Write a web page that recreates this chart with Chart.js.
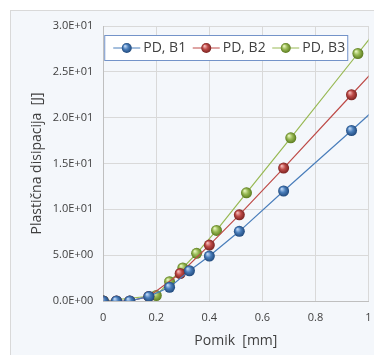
<!DOCTYPE html>
<html>
<head>
<meta charset="utf-8">
<script src="https://cdn.jsdelivr.net/npm/chart.js@4/dist/chart.umd.min.js"></script>
<style>
  html, body { margin: 0; padding: 0; background: #ffffff; }
  #wrap { width: 374px; height: 355px; overflow: hidden; }
</style>
</head>
<body>
<div id="wrap"><canvas id="chart" width="374" height="355"></canvas></div>
<script>
// Data (pomik in mm, plasticna disipacija in J).
const seriesNames = ['PD, B1', 'PD, B2', 'PD, B3'];
const b1X = [0, 0.05, 0.1, 0.172, 0.25, 0.325, 0.4, 0.513, 0.68, 0.936, 1.1];
const b1Y = [0, 0, 0, 0.5, 1.5, 3.3, 4.9, 7.6, 12.0, 18.6, 22.9];
const b2X = [0, 0.05, 0.1, 0.172, 0.29, 0.4, 0.513, 0.68, 0.936, 1.1];
const b2Y = [0, 0, 0, 0.5, 3.0, 6.1, 9.4, 14.5, 22.5, 27.6];
const b3X = [0, 0.2, 0.25, 0.3, 0.352, 0.427, 0.54, 0.707, 0.96, 1.1];
const b3Y = [0, 0.6, 2.1, 3.6, 5.2, 7.7, 11.8, 17.8, 27.0, 32.1];
const xTicks = [0, 0.2, 0.4, 0.6, 0.8, 1];
const yTicks = [0, 5, 10, 15, 20, 25, 30];

const palette = [
  {base: '#4a7ebb', light: '#b9d3f2', dark: '#20497c'},
  {base: '#be4b48', light: '#f2b6b4', dark: '#7a2220'},
  {base: '#98b954', light: '#e3f2b8', dark: '#5a7a1e'},
];
const fontFamily = '"Open Sans", "Noto Sans", sans-serif';
const textColor = '#404040';

const toPoints = (xs, ys) => xs.map((x, i) => ({x, y: ys[i]}));

function sphere(ctx, px, py, radius, col) {
  const g = ctx.createRadialGradient(px - radius * 0.35, py - radius * 0.4, 0.5, px, py, radius);
  g.addColorStop(0, col.light);
  g.addColorStop(0.45, col.base);
  g.addColorStop(1, col.dark);
  return g;
}

function pointFill(col) {
  return (c) => {
    const chart = c.chart;
    if (!chart.chartArea || !c.parsed) {
      return col.base;
    }
    const px = chart.scales.x.getPixelForValue(c.parsed.x);
    const py = chart.scales.y.getPixelForValue(c.parsed.y);
    return sphere(chart.ctx, px, py, 5.5, col);
  };
}

function expLabel(v) {
  if (v === 0) {
    return '0.0E+00';
  }
  const exp = Math.floor(Math.log10(Math.abs(v)));
  const mant = (v / Math.pow(10, exp)).toFixed(1);
  const sign = exp < 0 ? '-' : '+';
  return mant + 'E' + sign + String(Math.abs(exp)).padStart(2, '0');
}

const backdrop = {
  id: 'backdrop',
  beforeDraw(chart) {
    const ctx = chart.ctx;
    ctx.save();
    ctx.fillStyle = '#f4f7fb';
    ctx.fillRect(10.5, 10.5, chart.width, chart.height);
    ctx.strokeStyle = '#d9d9d9';
    ctx.lineWidth = 1;
    ctx.strokeRect(10.5, 10.5, chart.width, chart.height);
    ctx.restore();
  },
};

const boxLegend = {
  id: 'boxLegend',
  afterDraw(chart) {
    const ctx = chart.ctx;
    const left = chart.chartArea.left + 1;
    const top = 35;
    ctx.save();
    ctx.fillStyle = '#ffffff';
    ctx.fillRect(left + 0.5, top + 0.5, 243, 25);
    ctx.strokeStyle = '#7393c9';
    ctx.lineWidth = 1;
    ctx.strokeRect(left + 0.5, top + 0.5, 243, 25);
    ctx.font = '14px ' + fontFamily;
    ctx.textBaseline = 'middle';
    const cy = top + 13;
    seriesNames.forEach((name, i) => {
      const x0 = left + 9 + i * 79.5;
      const col = palette[i];
      ctx.strokeStyle = col.base;
      ctx.beginPath();
      ctx.moveTo(x0, cy);
      ctx.lineTo(x0 + 27, cy);
      ctx.stroke();
      ctx.beginPath();
      ctx.arc(x0 + 13.5, cy, 5, 0, Math.PI * 2);
      ctx.fillStyle = sphere(ctx, x0 + 13.5, cy, 5, col);
      ctx.fill();
      ctx.fillStyle = textColor;
      ctx.fillText(name, x0 + 30, cy + 0.5);
    });
    ctx.restore();
  },
};

const datasets = [[b1X, b1Y], [b2X, b2Y], [b3X, b3Y]].map(([xs, ys], i) => ({
  label: seriesNames[i],
  data: toPoints(xs, ys),
  showLine: true,
  borderColor: palette[i].base,
  borderWidth: 1.2,
  pointRadius: 5.5,
  pointBorderWidth: 0,
  pointBackgroundColor: pointFill(palette[i]),
  pointHoverRadius: 5.5,
}));

new Chart(document.getElementById('chart'), {
  type: 'scatter',
  data: {datasets},
  plugins: [backdrop, boxLegend],
  options: {
    responsive: false,
    animation: false,
    layout: {padding: {left: 29, top: 26, right: 0, bottom: 6}},
    plugins: {legend: {display: false}, tooltip: {enabled: false}},
    scales: {
      x: {
        type: 'linear',
        min: 0,
        max: 1,
        afterBuildTicks: (axis) => { axis.ticks = xTicks.map(v => ({value: v})); },
        ticks: {
          padding: 0,
          color: textColor,
          font: {family: fontFamily, size: 11},
          callback: (v) => String(v),
        },
        grid: {color: '#d9d9d9', drawTicks: true, tickLength: 10, tickColor: 'rgba(0,0,0,0)'},
        border: {color: '#bfbfbf'},
        title: {
          display: true,
          text: 'Pomik  [mm]',
          color: textColor,
          font: {family: fontFamily, size: 14},
          padding: {top: 8, bottom: 0},
        },
      },
      y: {
        min: 0,
        max: 30,
        afterBuildTicks: (axis) => { axis.ticks = yTicks.map(v => ({value: v})); },
        ticks: {
          padding: 10,
          color: textColor,
          font: {family: fontFamily, size: 11},
          callback: (v) => expLabel(v),
        },
        grid: {color: '#d9d9d9', drawTicks: false},
        border: {color: '#bfbfbf'},
        title: {
          display: true,
          text: 'Plastična disipacija  [J]',
          color: textColor,
          font: {family: fontFamily, size: 14},
          padding: {top: 0, bottom: -3},
        },
      },
    },
  },
});
</script>
</body>
</html>
